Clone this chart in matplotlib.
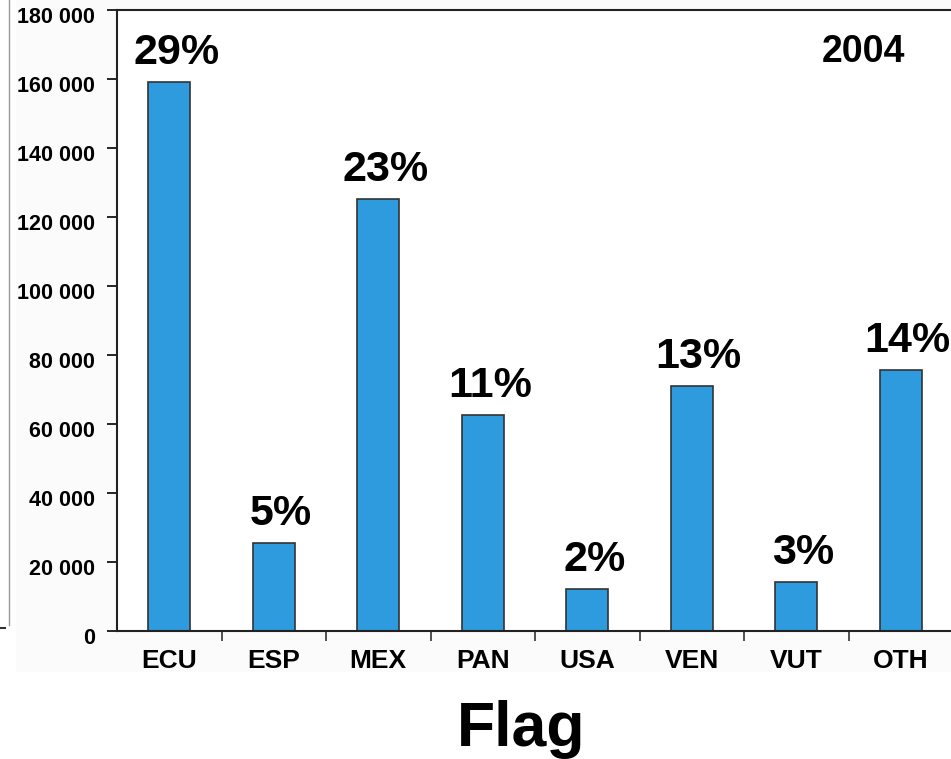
import matplotlib
matplotlib.use("Agg")
import matplotlib.pyplot as plt
import matplotlib.transforms as mtransforms
from matplotlib.patches import Rectangle
from matplotlib.lines import Line2D
from matplotlib.ticker import FuncFormatter, FixedLocator

plt.rcParams['font.family'] = ['Liberation Sans', 'DejaVu Sans']
plt.rcParams['font.weight'] = 'bold'

flags = ["ECU", "ESP", "MEX", "PAN", "USA", "VEN", "VUT", "OTH"]
catch = [159000, 25500, 125200, 62600, 12200, 71000, 14200, 75600]
shares = ["29%", "5%", "23%", "11%", "2%", "13%", "3%", "14%"]
yticks = [0, 20000, 40000, 60000, 80000, 100000, 120000, 140000, 160000, 180000]
year = "2004"
xlabel = "Flag"

W, H = 951, 759
fig = plt.figure(figsize=(W / 100, H / 100), dpi=100)
fig.patch.set_facecolor("white")

# light background panel
fig.patches.append(Rectangle((16 / W, 1 - 672 / H), 1, 672 / H, transform=fig.transFigure,
                             facecolor="#fbfbfb", edgecolor="none", zorder=-10))
fig.lines.append(Line2D([9 / W, 9 / W], [1 - 625 / H, 1], transform=fig.transFigure,
                        color="#9a9a9a", lw=1.0, zorder=-5))
fig.lines.append(Line2D([0, 5 / W], [1 - 628 / H, 1 - 628 / H], transform=fig.transFigure,
                        color="#333333", lw=1.5, zorder=-5))

left, right, bottom, top = 117, 953, 631, 10
ax = fig.add_axes([left / W, 1 - bottom / H, (right - left) / W, (bottom - top) / H])
ax.set_zorder(1)
ax.set_facecolor("white")

x = list(range(len(flags)))
ax.bar(x, catch, width=0.4, color="#2e9bdf", edgecolor="#333333", linewidth=1.2, zorder=2)

ax.set_xlim(-0.5, len(flags) - 0.5)
ax.set_ylim(0, 180000)

ax.set_yticks(yticks)
ax.yaxis.set_major_formatter(FuncFormatter(lambda v, p: f"{int(v):,}".replace(",", " ")))
ax.tick_params(axis="y", labelsize=15.5, length=7, width=1.2, pad=9, colors="black")
shift = mtransforms.ScaledTranslation(0, -5 / 100, fig.dpi_scale_trans)
for lbl in ax.get_yticklabels():
    lbl.set_fontweight("bold")
    lbl.set_transform(lbl.get_transform() + shift)

ax.set_xticks(x)
ax.set_xticklabels(flags, fontsize=19, fontweight="bold")
ax.tick_params(axis="x", which="major", length=0, pad=13)
ax.xaxis.set_minor_locator(FixedLocator([i + 0.5 for i in range(len(flags) - 1)]))
ax.tick_params(axis="x", which="minor", length=7, width=1.2, color="#333333")

for s in ["left", "bottom", "top"]:
    ax.spines[s].set_linewidth(1.5)
    ax.spines[s].set_color("#222222")
ax.spines["right"].set_visible(False)

for xi, v, s in zip(x, catch, shares):
    ax.annotate(s, (xi, v), xytext=(5, 13), textcoords="offset points",
                ha="center", va="baseline", fontsize=31, fontweight="bold")

ax.text(0.893, 0.932, year, transform=ax.transAxes, ha="center", va="center",
        fontsize=27, fontweight="bold")

fig.text(521 / W, 1 - 746 / H, xlabel, ha="center", va="baseline", fontsize=45, fontweight="bold")

fig.savefig("out.png", dpi=100)
